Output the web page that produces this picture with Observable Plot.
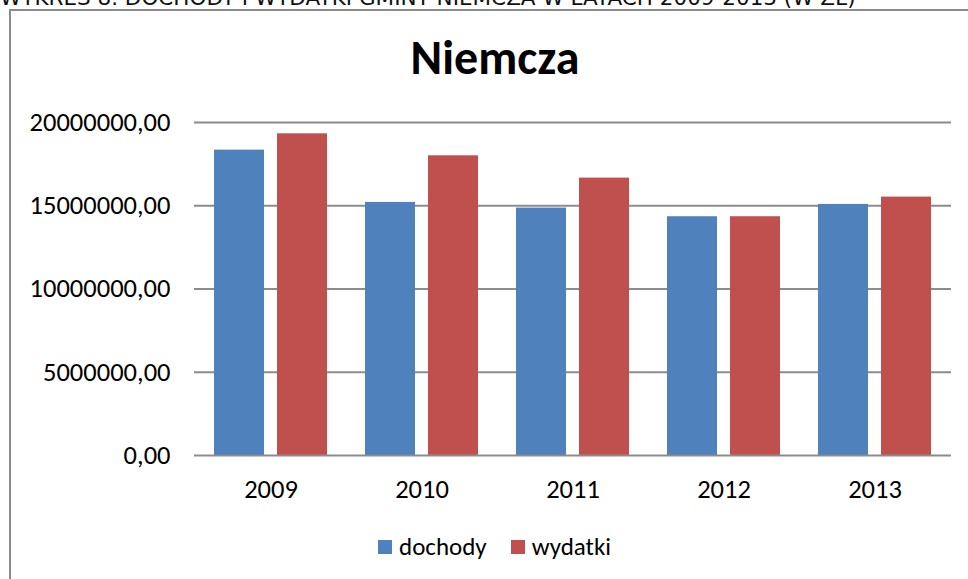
<!DOCTYPE html>
<html>
<head>
<meta charset="utf-8">
<script src="https://cdn.jsdelivr.net/npm/d3@7"></script>
<script src="https://cdn.jsdelivr.net/npm/@observablehq/plot@0.6"></script>
<style>
  html, body { margin: 0; padding: 0; background: #fff; width: 968px; height: 579px; overflow: hidden; }
  #wrap { position: relative; width: 968px; height: 579px; font-family: Carlito, Calibri, Lato, "Open Sans", sans-serif; }
  #header { position: absolute; left: 0; top: -15px; font-family: "DejaVu Sans", sans-serif; font-size: 21.5px; white-space: nowrap; color: #111; }
  #box { position: absolute; left: 9px; top: 9px; width: 1000px; height: 600px; border: 2px solid #8c8c8c; box-sizing: border-box; }
  #title { position: absolute; left: 0; width: 990px; top: 34px; text-align: center; font-weight: bold; font-size: 48px; color: #000; line-height: 1; }
  #chart { position: absolute; left: 0; top: 0; }
  #legend { position: absolute; top: 531px; left: 378px; display: flex; align-items: center; font-size: 25px; color: #000; }
  .sw { display: inline-block; width: 14px; height: 14px; margin-right: 7px; }
</style>
</head>
<body>
<div id="wrap">
  <div id="header">WYKRES 8. DOCHODY I WYDATKI GMINY NIEMCZA W LATACH 2009-2013 (W ZŁ)</div>
  <div id="box"></div>
  <div id="title">Niemcza</div>
  <div id="chart"></div>
  <div id="legend"></div>
</div>
<script>
const years = ["2009", "2010", "2011", "2012", "2013"];
const seriesNames = ["dochody", "wydatki"];
const dochody = [18340000, 15200000, 14860000, 14340000, 15080000];
const wydatki = [19320000, 18000000, 16660000, 14340000, 15520000];
const yTicks = [0, 5000000, 10000000, 15000000, 20000000];
const colors = ["#4F81BD", "#C0504D"];

const fmt = d => d.toFixed(2).replace(".", ",");
const dataD = years.map((y, i) => ({year: y, value: dochody[i]}));
const dataW = years.map((y, i) => ({year: y, value: wydatki[i]}));

const plot = Plot.plot({
  width: 968,
  height: 579,
  marginLeft: 194,
  marginRight: 17,
  marginTop: 122,
  marginBottom: 124,
  style: { fontFamily: "Carlito, Calibri, Lato, 'Open Sans', sans-serif", fontSize: "26.5px", background: "transparent", color: "#000" },
  x: { domain: years, padding: 0, label: null, tickSize: 0, tickPadding: 24 },
  y: { domain: [0, 20000000], ticks: yTicks, tickFormat: fmt, label: null, tickSize: 0, tickPadding: 24 },
  marks: [
    Plot.ruleY(yTicks.filter(d => d > 0), { stroke: "#8c8c8c", strokeWidth: 2, strokeOpacity: 1 }),
    Plot.barY(dataD, { x: "year", y: "value", fill: colors[0], insetLeft: 19, insetRight: 82 }),
    Plot.barY(dataW, { x: "year", y: "value", fill: colors[1], insetLeft: 82, insetRight: 19 }),
    Plot.ruleY([0], { stroke: "#8c8c8c", strokeWidth: 2, strokeOpacity: 1 })
  ]
});
plot.querySelectorAll("g[aria-label='x-axis tick label'] text, g[aria-label='y-axis tick label'] text").forEach(t => t.setAttribute("fill", "#000"));
document.getElementById("chart").appendChild(plot);

const legend = document.getElementById("legend");
seriesNames.forEach((n, i) => {
  const item = document.createElement("span");
  item.style.display = "inline-flex";
  item.style.alignItems = "center";
  item.style.marginRight = i === 0 ? "24px" : "0";
  const sw = document.createElement("span");
  sw.className = "sw";
  sw.style.background = colors[i];
  item.appendChild(sw);
  item.appendChild(document.createTextNode(n));
  legend.appendChild(item);
});
</script>
</body>
</html>
